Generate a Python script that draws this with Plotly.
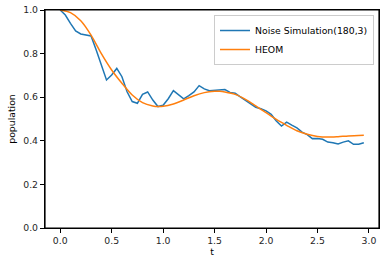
import plotly.graph_objects as go

t_noise = [round(0.05 * i, 2) for i in range(60)]
p_noise = [1.0, 0.977, 0.939, 0.904, 0.89, 0.885, 0.881, 0.817, 0.748, 0.679,
           0.702, 0.732, 0.694, 0.625, 0.58, 0.572, 0.613, 0.624, 0.587, 0.557,
           0.563, 0.593, 0.63, 0.61, 0.592, 0.607, 0.624, 0.653, 0.638, 0.63,
           0.631, 0.633, 0.635, 0.622, 0.618, 0.602, 0.587, 0.572, 0.554, 0.547,
           0.537, 0.521, 0.491, 0.468, 0.486, 0.472, 0.459, 0.44, 0.428, 0.41,
           0.411, 0.407, 0.394, 0.391, 0.385, 0.394, 0.4, 0.384, 0.384, 0.391]

t_heom = [0.0, 0.1, 0.2, 0.3, 0.4, 0.5, 0.6, 0.7, 0.8, 0.9, 0.95, 1.0, 1.1, 1.2,
          1.3, 1.4, 1.5, 1.55, 1.6, 1.7, 1.8, 1.9, 2.0, 2.1, 2.2, 2.3, 2.4, 2.5,
          2.6, 2.7, 2.8, 2.95]
p_heom = [1.0, 0.988, 0.951, 0.885, 0.80, 0.725, 0.664, 0.61, 0.575, 0.56, 0.557,
          0.558, 0.569, 0.587, 0.607, 0.621, 0.627, 0.627, 0.624, 0.613, 0.59,
          0.56, 0.529, 0.498, 0.471, 0.446, 0.43, 0.42, 0.417, 0.419, 0.422, 0.425]

x_ticks = [0.0, 0.5, 1.0, 1.5, 2.0, 2.5, 3.0]
y_ticks = [0.0, 0.2, 0.4, 0.6, 0.8, 1.0]

FS = 9.3
FONT = "DejaVu Sans"

fig = go.Figure()
fig.add_trace(go.Scatter(x=t_noise, y=p_noise, mode="lines",
                         name="Noise Simulation(180,3)",
                         line=dict(color="#1f77b4", width=1.5)))
fig.add_trace(go.Scatter(x=t_heom, y=p_heom, mode="lines", name="HEOM",
                         line=dict(color="#ff7f0e", width=1.5, shape="spline", smoothing=0.8)))

axis_common = dict(showline=True, linecolor="black", linewidth=1.2, mirror=True,
                   ticks="outside", ticklen=4, tickwidth=1.2, tickcolor="black",
                   showgrid=False, zeroline=False, automargin=False,
                   tickfont=dict(family=FONT, size=FS, color="#262626"))

fig.update_xaxes(range=[-0.1475, 3.0975], tickvals=x_ticks,
                 ticktext=[f"{v:.1f}" for v in x_ticks],
                 title=dict(text="t", font=dict(family=FONT, size=FS, color="black"),
                            standoff=3),
                 **axis_common)
fig.update_yaxes(range=[0, 1], tickvals=y_ticks,
                 ticktext=[f"{v:.1f}" for v in y_ticks],
                 title=dict(text="population", font=dict(family=FONT, size=FS, color="black"),
                            standoff=5),
                 **axis_common)

fig.add_shape(type="rect", xref="paper", yref="paper", x0=0, y0=0, x1=1, y1=1,
              line=dict(color="black", width=1.2), fillcolor="rgba(0,0,0,0)", layer="above")

fig.update_layout(
    width=386, height=266,
    margin=dict(l=45, r=7, t=10, b=38, autoexpand=False),
    paper_bgcolor="white", plot_bgcolor="white",
    font=dict(family=FONT, size=FS, color="black"),
    legend=dict(x=0.985, y=0.977, xanchor="right", yanchor="top",
                bgcolor="rgba(255,255,255,0.8)", bordercolor="#cccccc", borderwidth=1,
                font=dict(family=FONT, size=FS, color="black"),
                tracegroupgap=0, itemwidth=30),
    showlegend=True,
)

fig.write_html("out.html", config={"displayModeBar": False},
               post_script="document.body.style.margin='0';document.body.style.overflow='hidden';")
